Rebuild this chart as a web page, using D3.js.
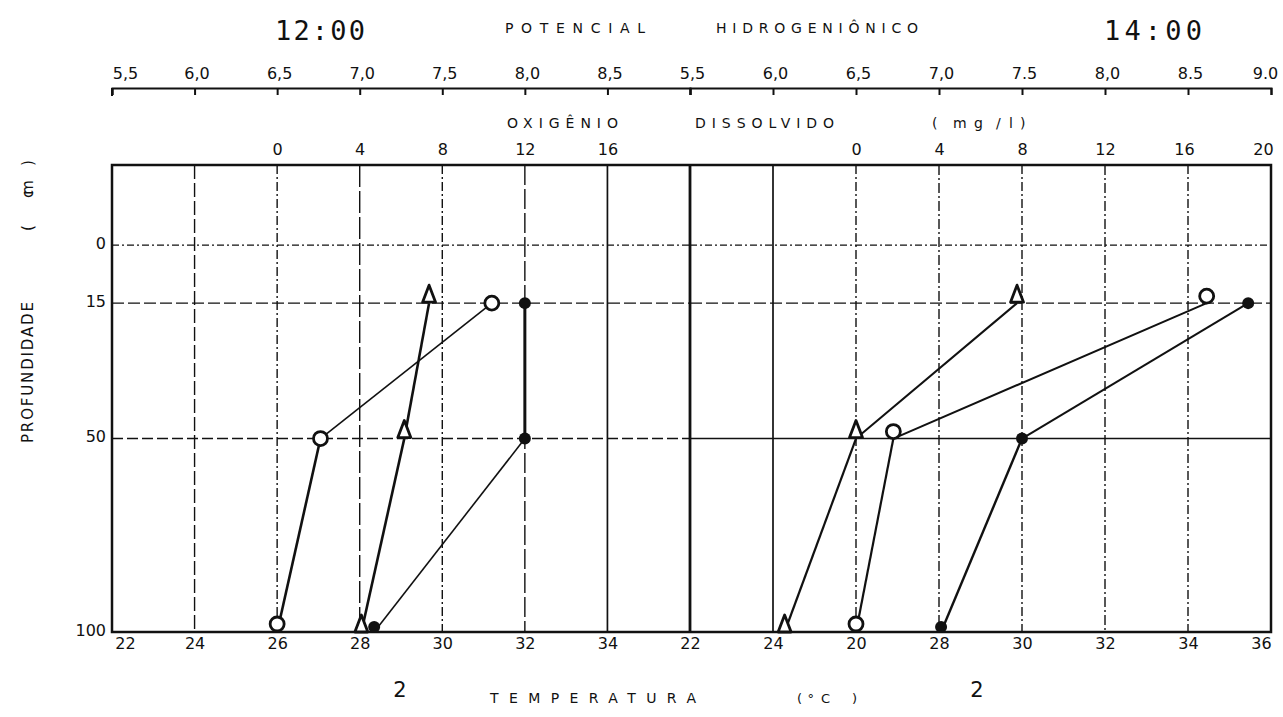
<!DOCTYPE html>
<html><head><meta charset="utf-8">
<script src="https://cdn.jsdelivr.net/npm/d3@7"></script>
<style>
html,body{margin:0;padding:0;background:#fff;}
svg{display:block;}
text{font-family:"DejaVu Sans",sans-serif;fill:#111;}
</style></head>
<body>
<svg id="chart" width="1283" height="717"></svg>
<script>
// ---------------- DATA ----------------
const depths = [15, 50, 100];                 // profundidade (cm)
const depthTicks = [0, 15, 50, 100];
// 12:00
const pH_1200   = [7.42, 7.27, 7.01];
const o2_1200   = [10.4, 2.1, 0.0];
const temp_1200 = [32.0, 32.0, 28.35];
// 14:00
const pH_1400   = [7.47, 6.5, 6.07];
const o2_1400   = [16.9, 1.8, 0.0];
const temp_1400 = [35.45, 30.0, 28.05];

const panelTitles = ["12:00", "14:00"];
const pHTicksLeft  = [5.5, 6.0, 6.5, 7.0, 7.5, 8.0, 8.5];
const pHLabelsLeft = ["5,5","6,0","6,5","7,0","7,5","8,0","8,5"];
const pHTicksRight = [5.5, 6.0, 6.5, 7.0, 7.5, 8.0, 8.5, 9.0];
const pHLabelsRight= ["5,5","6,0","6,5","7,0","7.5","8,0","8.5","9.0"];
const o2TicksLeft  = [0, 4, 8, 12, 16];
const o2TicksRight = [0, 4, 8, 12, 16, 20];
const tempTicksLeft  = [22, 24, 26, 28, 30, 32, 34];
const tempLabelsLeft = ["22","24","26","28","30","32","34"];
const tempTicksRight = [22, 24, 26, 28, 30, 32, 34, 36];
const tempLabelsRight= ["22","24","20","28","30","32","34","36"];

// ---------------- LAYOUT ----------------
const svg = d3.select("#chart");
const pTop = 165, pBottom = 632, pLeft = 112, pMid = 690, pRight = 1271;
const panels = [[pLeft, pMid], [pMid, pRight]];

const y = d3.scaleLinear().domain([-20.7, 100]).range([pTop, pBottom]);
const xT = panels.map(p => d3.scaleLinear().domain([22, 36]).range(p));
const xP = panels.map(p => d3.scaleLinear().domain([5.5, 9.0]).range(p));
const xO = panels.map(p => d3.scaleLinear().domain([-8, 20]).range(p));

// ---------------- GRID ----------------
const g = svg.append("g");
const vStyle = [
  {24:"14,4", 26:"9,3,2,3", 28:"22,4", 30:"9,3,2,3", 32:"20,4", 34:null},
  {24:null, 26:"9,3,2,3", 28:"10,3,2,3", 30:"9,3,2,3", 32:"10,3,2,3", 34:"9,3,2,3"}
];
[tempTicksLeft, tempTicksRight].forEach((ticks, p) => {
  ticks.filter(t => t > 22 && t < 36).forEach(t => {
    const st = vStyle[p][t];
    g.append("line")
      .attr("x1", xT[p](t)).attr("x2", xT[p](t))
      .attr("y1", pTop).attr("y2", pBottom)
      .attr("stroke", "#111").attr("stroke-width", st ? 1.4 : 1.7)
      .attr("stroke-dasharray", st);
  });
});
// horizontal lines
const hStyle = {0:["7,3,2,3","7,3,2,3"], 15:["12,4","12,4"], 50:["11,4", null]};
depthTicks.filter(d => d > -20 && d < 100).forEach(d => {
  panels.forEach((p, i) => {
    g.append("line")
      .attr("x1", p[0]).attr("x2", p[1])
      .attr("y1", y(d)).attr("y2", y(d))
      .attr("stroke", "#111").attr("stroke-width", 1.4)
      .attr("stroke-dasharray", hStyle[d][i]);
  });
});
// middle divider
g.append("line").attr("x1", pMid).attr("x2", pMid).attr("y1", pTop).attr("y2", pBottom)
  .attr("stroke", "#111").attr("stroke-width", 2.8);
// frame
g.append("rect").attr("x", pLeft).attr("y", pTop).attr("width", pRight - pLeft).attr("height", pBottom - pTop)
  .attr("fill", "none").attr("stroke", "#111").attr("stroke-width", 2.5);

// ---------------- AXES ----------------
function styleAxis(sel, fs) {
  sel.selectAll("text").style("font-size", fs + "px").attr("fill", "#111")
    .style("font-family", '"DejaVu Sans", sans-serif');
  sel.selectAll("line, path").attr("stroke", "#111");
}
function endShift(p, d, first, last, a, b) {
  if (p === 0 && d === first) return a;
  if (p === 1 && d === last) return b;
  return 2;
}
// pH axis (top)
const phY = 88;
[[pHTicksLeft, pHLabelsLeft], [pHTicksRight, pHLabelsRight]].forEach(([ticks, labels], p) => {
  const ax = d3.axisTop(xP[p]).tickValues(ticks)
    .tickFormat((d, i) => labels[i]).tickSize(-7).tickPadding(9);
  const a = svg.append("g").attr("transform", `translate(0,${phY})`).call(ax);
  styleAxis(a, 16);
  a.select(".domain").attr("stroke-width", 2);
  a.selectAll(".tick line").attr("stroke-width", 2);
  a.selectAll(".tick text").attr("dx", d => endShift(p, d, 5.5, 9.0, 13, -6));
});
// left edge tick of pH axis
svg.append("line").attr("x1", pLeft).attr("x2", pLeft).attr("y1", phY).attr("y2", phY + 8)
  .attr("stroke", "#111").attr("stroke-width", 2);

// O2 axis (labels above frame)
[o2TicksLeft, o2TicksRight].forEach((ticks, p) => {
  const ax = d3.axisTop(xO[p]).tickValues(ticks).tickFormat(d3.format("d"))
    .tickSize(0).tickPadding(10);
  const a = svg.append("g").attr("transform", `translate(0,${pTop})`).call(ax);
  styleAxis(a, 16);
  a.select(".domain").remove();
  a.selectAll(".tick text").attr("dx", d => (p === 1 && d === 20) ? -8 : (p === 1 && d === 16 ? -4 : 0));
});

// temperature axis (bottom)
[[tempTicksLeft, tempLabelsLeft], [tempTicksRight, tempLabelsRight]].forEach(([ticks, labels], p) => {
  const ax = d3.axisBottom(xT[p]).tickValues(ticks)
    .tickFormat((d, i) => labels[i]).tickSize(0).tickPadding(6);
  const a = svg.append("g").attr("transform", `translate(0,${pBottom})`).call(ax);
  styleAxis(a, 16);
  a.select(".domain").remove();
  a.selectAll(".tick text").attr("dx", d => endShift(p, d, 22, 36, 15, -8) - 2);
});

// depth axis (left)
{
  const ax = d3.axisLeft(y).tickValues(depthTicks).tickFormat(d3.format("d"))
    .tickSize(0).tickPadding(6);
  const a = svg.append("g").attr("transform", `translate(${pLeft},0)`).call(ax);
  styleAxis(a, 16);
  a.select(".domain").remove();
  a.selectAll(".tick text").attr("dy", "0.2em");
}

// ---------------- TITLES ----------------
function label(txt, x, yy, fs, len, anchor) {
  const t = svg.append("text").attr("x", x).attr("y", yy).attr("text-anchor", anchor || "start")
    .style("font-size", fs + "px").text(txt);
  if (len) t.attr("textLength", len).attr("lengthAdjust", "spacing");
  return t;
}
const titleX = [275, 1104], titleLen = [90, 98];
panelTitles.forEach((t, i) => {
  label(t, titleX[i], 40, 27, titleLen[i]).style("font-family", '"DejaVu Sans Mono", monospace');
});
label("POTENCIAL", 505, 33, 14, 140);
label("HIDROGENIÔNICO", 716, 33, 14, 202);
label("OXIGÊNIO", 507, 128, 14, 111);
label("DISSOLVIDO", 695, 128, 14, 139);
label("(", 932, 128, 14);
label("mg", 953, 128, 14, 30);
label("/", 996, 128, 14);
label("l", 1009, 128, 14);
label(")", 1020, 128, 14);
label("2", 400, 697, 21, null, "middle");
label("2", 977, 697, 21, null, "middle");
label("TEMPERATURA", 490, 703, 14, 206);
label("(°", 797, 703, 13, 17);
label("C", 821, 703, 13);
label(")", 852, 703, 13);

// y title (rotated)
function vlabel(txt, cy, len, anchor) {
  const t = svg.append("text").attr("transform", `translate(33,${cy}) rotate(-90)`)
    .attr("text-anchor", anchor || "start").style("font-size", "15px").text(txt);
  if (len) t.attr("textLength", len).attr("lengthAdjust", "spacing");
}
vlabel("PROFUNDIDADE", 443, 141);
vlabel("(", 231);
vlabel("cm", 198, 18);
vlabel(")", 166);

// ---------------- SERIES ----------------
const series = [
  {p:0, kind:"tri",  vals:pH_1200,   x:xP[0], w:[2.6, 2.6]},
  {p:0, kind:"circ", vals:o2_1200,   x:xO[0], w:[1.6, 2.6]},
  {p:0, kind:"dot",  vals:temp_1200, x:xT[0], w:[3.0, 1.6]},
  {p:1, kind:"tri",  vals:pH_1400,   x:xP[1], w:[2.0, 2.2]},
  {p:1, kind:"circ", vals:o2_1400,   x:xO[1], w:[2.0, 2.2]},
  {p:1, kind:"dot",  vals:temp_1400, x:xT[1], w:[2.0, 2.4]}
];
const sg = svg.append("g");
series.forEach(s => {
  const pts = depths.map((d, i) => [s.x(s.vals[i]), y(d)]);
  for (let i = 0; i < pts.length - 1; i++) {
    sg.append("path").attr("d", d3.line()([pts[i], pts[i + 1]]))
      .attr("stroke", "#111").attr("stroke-width", s.w[i]).attr("fill", "none");
  }
});
series.forEach(s => {
  depths.forEach((d, i) => {
    const cx = s.x(s.vals[i]);
    const base = y(d);
    if (s.kind === "circ") {
      const off = d === 100 ? 8 : (s.p === 1 ? 7 : 0);
      sg.append("circle").attr("cx", cx).attr("cy", base - off)
        .attr("r", 7).attr("fill", "#fff").attr("stroke", "#111").attr("stroke-width", 2.8);
    } else if (s.kind === "dot") {
      sg.append("circle").attr("cx", cx).attr("cy", base - (d === 100 ? 5 : 0))
        .attr("r", 6).attr("fill", "#111");
    } else {
      const b = d === 100 ? base : base - 1;
      sg.append("path")
        .attr("d", d3.line()([[cx, b - 17], [cx + 6.5, b], [cx - 6.5, b]]) + "Z")
        .attr("fill", "#fff").attr("stroke", "#111").attr("stroke-width", 2.8)
        .attr("stroke-linejoin", "round");
    }
  });
});
</script>
</body></html>
